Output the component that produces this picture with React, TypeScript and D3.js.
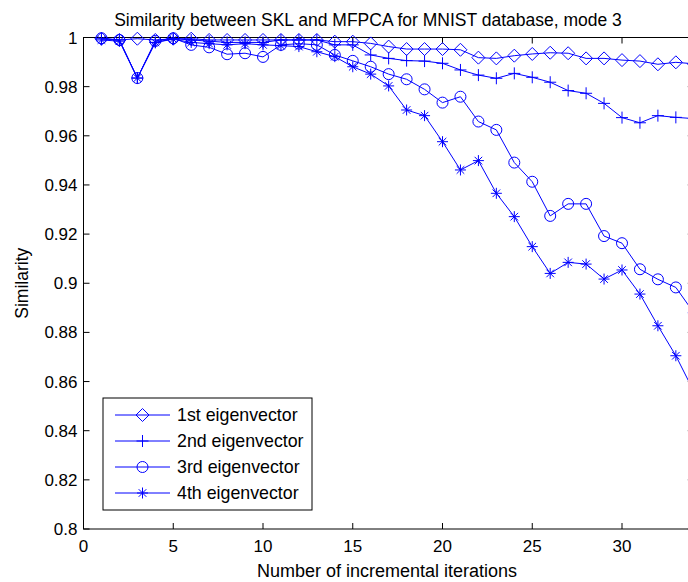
import React from "react";
import * as d3 from "d3";

const iterations = [1,2,3,4,5,6,7,8,9,10,11,12,13,14,15,16,17,18,19,20,21,22,23,24,25,26,27,28,29,30,31,32,33,34];
const eig1 = [0.9995,0.999,0.9995,0.999,0.9995,0.9995,0.999,0.999,0.999,0.999,0.999,0.999,0.999,0.9983,0.9983,0.9976,0.9963,0.9953,0.9953,0.9953,0.995,0.9918,0.9915,0.9926,0.9933,0.9938,0.9936,0.9915,0.9915,0.9908,0.9904,0.9891,0.9899,0.9893];
const eig2 = [0.9995,0.999,0.9835,0.998,0.9995,0.999,0.9985,0.998,0.998,0.998,0.999,0.999,0.999,0.997,0.997,0.9929,0.9915,0.9906,0.9904,0.9895,0.9868,0.9847,0.9834,0.9854,0.9838,0.9818,0.9784,0.9773,0.9732,0.9674,0.9653,0.9682,0.9675,0.967];
const eig3 = [0.9997,0.999,0.9835,0.9986,0.9997,0.997,0.996,0.9932,0.9936,0.9921,0.997,0.9975,0.997,0.9929,0.9905,0.9881,0.9851,0.983,0.9789,0.9735,0.9759,0.9658,0.9624,0.9491,0.9413,0.9274,0.9323,0.9323,0.9192,0.9163,0.9057,0.9016,0.8983,0.888];
const eig4 = [0.999,0.9985,0.9835,0.998,0.9993,0.998,0.9975,0.997,0.9975,0.997,0.9967,0.9963,0.9942,0.9922,0.9881,0.9851,0.9803,0.9705,0.9682,0.9576,0.9461,0.9499,0.9366,0.9271,0.9149,0.904,0.9085,0.9078,0.9017,0.9054,0.8956,0.8827,0.8705,0.856];
const seriesNames = ["1st eigenvector","2nd eigenvector","3rd eigenvector","4th eigenvector"];
const markerTypes = ["diamond","plus","circle","star"];
const xTicks = [0,5,10,15,20,25,30];
const yTicks = [0.8,0.82,0.84,0.86,0.88,0.9,0.92,0.94,0.96,0.98,1];
const xDomain = [0,34];
const yDomain = [0.8,1];

const BLUE = "#0000ff";
const FONT = "'Liberation Sans', Arial, sans-serif";

function Marker({ type, cx, cy }: { type: string; cx: number; cy: number }) {
  const common = { fill: "none", stroke: BLUE, strokeWidth: 1 };
  if (type === "diamond") {
    const s = 6.5;
    return <path d={`M${cx},${cy - s}L${cx + s},${cy}L${cx},${cy + s}L${cx - s},${cy}Z`} {...common} />;
  }
  if (type === "plus") {
    const s = 6;
    return <path d={`M${cx - s},${cy}H${cx + s}M${cx},${cy - s}V${cy + s}`} {...common} />;
  }
  if (type === "circle") {
    return <circle cx={cx} cy={cy} r={5.5} {...common} />;
  }
  const s = 5.5, d = 3.8;
  return (
    <path
      d={`M${cx - s},${cy}H${cx + s}M${cx},${cy - s}V${cy + s}M${cx - d},${cy - d}L${cx + d},${cy + d}M${cx - d},${cy + d}L${cx + d},${cy - d}`}
      {...common}
    />
  );
}

export default function App() {
  const W = 688, H = 582;
  const left = 83.5, right = 693.8, top = 37.5, bottom = 529;
  const x = d3.scaleLinear().domain(xDomain).range([left, right]);
  const y = d3.scaleLinear().domain(yDomain).range([bottom, top]);
  const all = [eig1, eig2, eig3, eig4];
  const line = d3
    .line<number>()
    .x((_, i) => x(iterations[i]))
    .y((v) => y(v));
  const tl = 6;
  const legX = 103, legY = 398, legW = 209, legH = 112;
  const rowY = [415, 441, 467, 493];

  return (
    <div style={{ position: "fixed", left: 0, top: 0, width: W, height: H, background: "#fff" }}>
      <svg width={W} height={H} style={{ display: "block" }} fontFamily={FONT}>
        <rect x={0} y={0} width={W} height={H} fill="#fff" />
        <rect x={left} y={top} width={right - left} height={bottom - top} fill="none" stroke="#000" strokeWidth={1} />
        {xTicks.map((t) => (
          <g key={"xt" + t}>
            <line x1={x(t)} x2={x(t)} y1={bottom} y2={bottom - tl} stroke="#000" />
            <line x1={x(t)} x2={x(t)} y1={top} y2={top + tl} stroke="#000" />
            <text x={x(t)} y={552} fontSize={17} textAnchor="middle" fill="#000">{t}</text>
          </g>
        ))}
        {yTicks.map((t) => (
          <g key={"yt" + t}>
            <line x1={left} x2={left + tl} y1={y(t)} y2={y(t)} stroke="#000" />
            <line x1={right} x2={right - tl} y1={y(t)} y2={y(t)} stroke="#000" />
            <text x={left - 6} y={y(t) + 6} fontSize={17} textAnchor="end" fill="#000">{d3.format("")(t)}</text>
          </g>
        ))}
        {all.map((s, k) => (
          <g key={"s" + k}>
            <path d={line(s) || ""} fill="none" stroke={BLUE} strokeWidth={1} />
            {s.map((v, i) => (
              <Marker key={i} type={markerTypes[k]} cx={x(iterations[i])} cy={y(v)} />
            ))}
          </g>
        ))}
        <text x={368} y={26} fontSize={17.5} textAnchor="middle" fill="#000">
          Similarity between SKL and MFPCA for MNIST database, mode 3
        </text>
        <text x={387} y={577} fontSize={18} textAnchor="middle" fill="#000">
          Number of incremental iterations
        </text>
        <text transform={`translate(28,${(top + bottom) / 2}) rotate(-90)`} fontSize={17.5} textAnchor="middle" fill="#000">
          Similarity
        </text>
        <rect x={legX} y={legY} width={legW} height={legH} fill="#fff" stroke="#000" strokeWidth={1} />
        {seriesNames.map((n, k) => (
          <g key={"lg" + k}>
            <line x1={115} x2={170} y1={rowY[k]} y2={rowY[k]} stroke={BLUE} strokeWidth={1} />
            <Marker type={markerTypes[k]} cx={142.5} cy={rowY[k]} />
            <text x={177} y={rowY[k] + 6} fontSize={17.8} fill="#000">{n}</text>
          </g>
        ))}
      </svg>
    </div>
  );
}
